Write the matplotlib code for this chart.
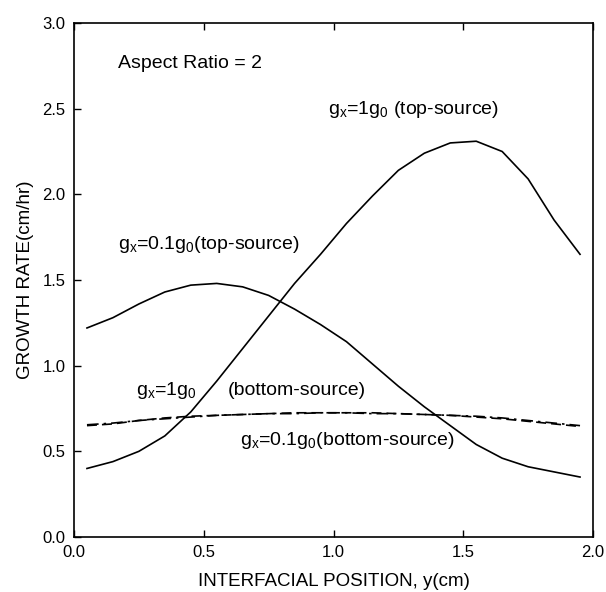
import matplotlib
matplotlib.use("Agg")
import matplotlib.pyplot as plt

plt.rcParams['font.family'] = ['Liberation Sans', 'DejaVu Sans']
plt.rcParams['mathtext.fontset'] = 'custom'
plt.rcParams['mathtext.rm'] = 'Liberation Sans'
plt.rcParams['mathtext.it'] = 'Liberation Sans'

# Data
position = [0.05, 0.15, 0.25, 0.35, 0.45, 0.55, 0.65, 0.75, 0.85, 0.95,
            1.05, 1.15, 1.25, 1.35, 1.45, 1.55, 1.65, 1.75, 1.85, 1.95]
top_1g0 = [0.40, 0.44, 0.50, 0.59, 0.73, 0.91, 1.10, 1.29, 1.48, 1.65,
           1.83, 1.99, 2.14, 2.24, 2.30, 2.31, 2.25, 2.09, 1.85, 1.65]
top_01g0 = [1.22, 1.28, 1.36, 1.43, 1.47, 1.48, 1.46, 1.41, 1.33, 1.24,
            1.14, 1.01, 0.88, 0.76, 0.65, 0.54, 0.46, 0.41, 0.38, 0.35]
bottom_1g0 = [0.650, 0.660, 0.680, 0.695, 0.705, 0.710, 0.715, 0.720, 0.725, 0.725,
              0.725, 0.725, 0.720, 0.715, 0.710, 0.700, 0.690, 0.675, 0.660, 0.645]
bottom_01g0 = [0.655, 0.665, 0.680, 0.690, 0.700, 0.710, 0.715, 0.720, 0.720, 0.725,
               0.725, 0.720, 0.720, 0.715, 0.710, 0.705, 0.695, 0.680, 0.665, 0.650]

xticks = [0.0, 0.5, 1.0, 1.5, 2.0]
yticks = [0.0, 0.5, 1.0, 1.5, 2.0, 2.5, 3.0]

fig = plt.figure(figsize=(6.06, 5.92), dpi=100)
ax = fig.add_axes([74/606, 1 - 537/592, (593 - 74)/606, (537 - 23)/592])

ax.plot(position, top_1g0, color='black', lw=1.2, ls='-')
ax.plot(position, top_01g0, color='black', lw=1.2, ls='-')
ax.plot(position, bottom_1g0, color='black', lw=1.2, ls=(0, (6, 3)))
ax.plot(position, bottom_01g0, color='black', lw=1.2, ls=(0, (7, 3, 1.5, 3)))

ax.set_xlim(0, 2.0)
ax.set_ylim(0, 3.0)
ax.set_xticks(xticks)
ax.set_yticks(yticks)
ax.set_xticklabels([f"{v:.1f}" for v in xticks])
ax.set_yticklabels([f"{v:.1f}" for v in yticks])
ax.tick_params(direction='in', top=True, right=False, length=5, width=1,
               labelsize=12, pad=6)
for s in ax.spines.values():
    s.set_linewidth(1.2)

ax.set_xlabel("INTERFACIAL POSITION, y(cm)", fontsize=13.5, labelpad=9)
ax.set_ylabel("GROWTH RATE(cm/hr)", fontsize=13.5, labelpad=6)

fs = 14
ax.text(0.17, 2.74, "Aspect Ratio = 2", fontsize=fs, va='baseline', ha='left')
ax.text(0.98, 2.47, r"g$_\mathregular{x}$=1g$_\mathregular{0}$ (top-source)",
        fontsize=fs, va='baseline', ha='left')
ax.text(0.17, 1.68, r"g$_\mathregular{x}$=0.1g$_\mathregular{0}$(top-source)",
        fontsize=fs, va='baseline', ha='left')
ax.text(0.24, 0.826, r"g$_\mathregular{x}$=1g$_\mathregular{0}$",
        fontsize=fs, va='baseline', ha='left')
ax.text(0.593, 0.826, "(bottom-source)", fontsize=fs, va='baseline', ha='left')
ax.text(0.64, 0.537, r"g$_\mathregular{x}$=0.1g$_\mathregular{0}$(bottom-source)",
        fontsize=fs, va='baseline', ha='left')

fig.savefig("out.png", dpi=100)
